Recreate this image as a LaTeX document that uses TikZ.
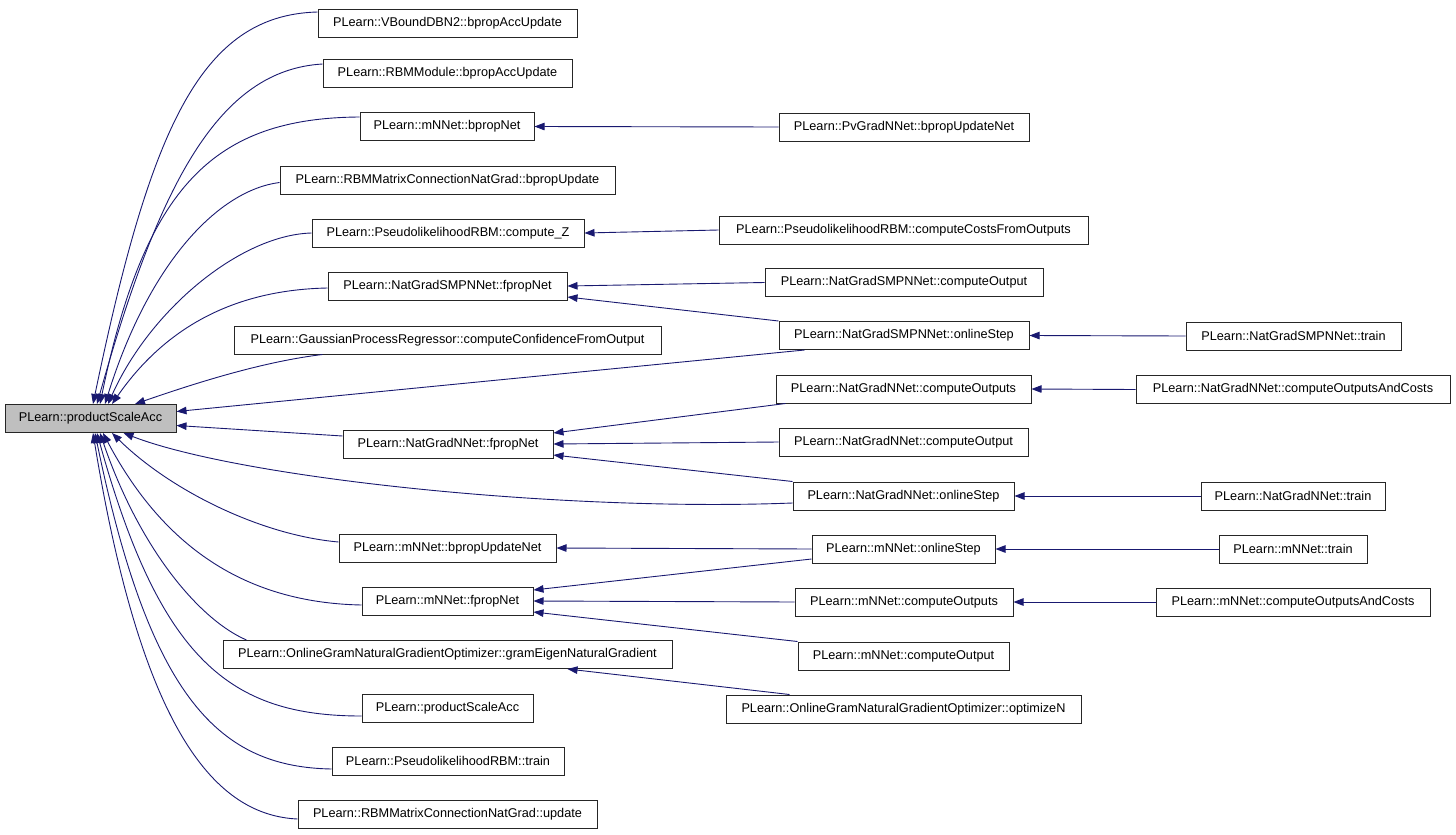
\documentclass[tikz,border=0pt]{standalone}
\usepackage{fontspec}
\setmainfont{Liberation Sans}
\usetikzlibrary{arrows.meta}
\definecolor{navyc}{HTML}{191970}
\begin{document}
\begin{tikzpicture}[x=1pt,y=-1pt,
  box/.style={draw=black!85, line width=1pt, fill=white, minimum height=28pt, inner sep=0pt,
    font=\fontsize{12.7}{15}\selectfont},
  arr/.style={draw=navyc, line width=0.9pt, -{Triangle[length=10pt,width=7.5pt]}}]
\useasboundingbox (0,0) rectangle (1456,835);
% root
\node[box, fill=gray!50, minimum width=171] (root) at (90.5,418.5) {PLearn::productScaleAcc};
% column 2
\node[box, minimum width=259] (a1) at (447.5,23.5) {PLearn::VBoundDBN2::bpropAccUpdate};
\node[box, minimum width=249] (a2) at (447.5,73.5) {PLearn::RBMModule::bpropAccUpdate};
\node[box, minimum width=174] (a3) at (447,126.5) {PLearn::mNNet::bpropNet};
\node[box, minimum width=335] (a4) at (447.5,180.5) {PLearn::RBMMatrixConnectionNatGrad::bpropUpdate};
\node[box, minimum width=272] (a5) at (448,233) {PLearn::PseudolikelihoodRBM::compute\_Z};
\node[box, minimum width=239] (a6) at (447.5,286) {PLearn::NatGradSMPNNet::fpropNet};
\node[box, minimum width=427] (a7) at (447.5,340) {PLearn::GaussianProcessRegressor::computeConfidenceFromOutput};
\node[box, minimum width=210] (a8) at (448,444) {PLearn::NatGradNNet::fpropNet};
\node[box, minimum width=217] (a9) at (447.5,548) {PLearn::mNNet::bpropUpdateNet};
\node[box, minimum width=171] (a10) at (447.5,601) {PLearn::mNNet::fpropNet};
\node[box, minimum width=449] (a11) at (447.5,654.5) {PLearn::OnlineGramNaturalGradientOptimizer::gramEigenNaturalGradient};
\node[box, minimum width=171] (a12) at (447.5,708) {PLearn::productScaleAcc};
\node[box, minimum width=232] (a13) at (448,761) {PLearn::PseudolikelihoodRBM::train};
\node[box, minimum width=299] (a14) at (447.5,814.5) {PLearn::RBMMatrixConnectionNatGrad::update};
% column 3
\node[box, minimum width=250] (b1) at (904,127) {PLearn::PvGradNNet::bpropUpdateNet};
\node[box, minimum width=369] (b2) at (903.5,230) {PLearn::PseudolikelihoodRBM::computeCostsFromOutputs};
\node[box, minimum width=278] (b3) at (904,282.5) {PLearn::NatGradSMPNNet::computeOutput};
\node[box, minimum width=250] (b4) at (904,335.5) {PLearn::NatGradSMPNNet::onlineStep};
\node[box, minimum width=255] (b5) at (903.5,389) {PLearn::NatGradNNet::computeOutputs};
\node[box, minimum width=249] (b6) at (903.5,442) {PLearn::NatGradNNet::computeOutput};
\node[box, minimum width=221] (b7) at (903.5,496) {PLearn::NatGradNNet::onlineStep};
\node[box, minimum width=183] (b8) at (903.5,549) {PLearn::mNNet::onlineStep};
\node[box, minimum width=218] (b9) at (904,602) {PLearn::mNNet::computeOutputs};
\node[box, minimum width=211] (b10) at (903.5,656) {PLearn::mNNet::computeOutput};
\node[box, minimum width=355] (b11) at (903.5,709) {PLearn::OnlineGramNaturalGradientOptimizer::optimizeN};
% column 4
\node[box, minimum width=215] (c1) at (1293.5,336) {PLearn::NatGradSMPNNet::train};
\node[box, minimum width=314] (c2) at (1293,389.5) {PLearn::NatGradNNet::computeOutputsAndCosts};
\node[box, minimum width=184] (c3) at (1293,496) {PLearn::NatGradNNet::train};
\node[box, minimum width=148] (c4) at (1293,549) {PLearn::mNNet::train};
\node[box, minimum width=274] (c5) at (1293,602) {PLearn::mNNet::computeOutputsAndCosts};
% edges into root (top)
\draw[arr] ([yshift=-3]a1.north west) .. controls (200,15) and (150,130) .. ([xshift=2.5]root.north);
\draw[arr] ([yshift=-5]a2.north west) .. controls (220,70) and (160,180) .. ([xshift=6.5]root.north);
\draw[arr] ([yshift=-5]a3.north west) .. controls (215,118) and (145,185) .. ([xshift=9.5]root.north);
\draw[arr] ([yshift=-2]a4.west) .. controls (220,190) and (150,260) .. ([xshift=14.5]root.north);
\draw[arr] (a5.west) .. controls (240,235) and (150,310) .. ([xshift=17.5]root.north);
\draw[arr] ([yshift=-2]a6.west) .. controls (225,290) and (160,335) .. ([xshift=21.5]root.north);
\draw[arr] ([xshift=89]a7.south west) .. controls (260,362) and (190,385) .. ([xshift=44.5]root.north);
\draw[arr] ([xshift=26]b4.south west) -- ([yshift=7]root.east);
\draw[arr] ([yshift=8]a8.west) -- ([yshift=-7]root.east);
% edges into root (bottom)
\draw[arr] ([yshift=-7]b7.west) .. controls (560,512) and (240,478) .. ([xshift=33]root.south);
\draw[arr] ([yshift=6]a9.west) .. controls (260,535) and (170,490) .. ([xshift=21.5]root.south);
\draw[arr] ([yshift=-4]a10.west) .. controls (260,603) and (170,560) .. ([xshift=12.5]root.south);
\draw[arr] ([xshift=24]a11.north west) .. controls (200,620) and (140,550) .. ([xshift=9.5]root.south);
\draw[arr] ([yshift=-8]a12.west) .. controls (230,716) and (160,660) .. ([xshift=6.5]root.south);
\draw[arr] ([yshift=-8]a13.west) .. controls (220,767) and (150,700) .. ([xshift=4.5]root.south);
\draw[arr] ([yshift=-4.5]a14.west) .. controls (210,815) and (140,720) .. ([xshift=2.5]root.south);
% column 3 -> column 2
\draw[arr] (b1.west) -- (a3.east);
\draw[arr] (b2.west) -- (a5.east);
\draw[arr] (b3.west) -- (a6.east);
\draw[arr] (b4.north west) -- ([yshift=-11]a6.east);
\draw[arr] ([xshift=10]b5.south west) -- ([yshift=11]a8.east);
\draw[arr] (b6.west) -- (a8.east);
\draw[arr] (b7.north west) -- ([yshift=-11]a8.east);
\draw[arr] (b8.west) -- (a9.east);
\draw[arr] ([yshift=-10]b8.west) -- ([yshift=11]a10.east);
\draw[arr] (b9.west) -- (a10.east);
\draw[arr] (b10.north west) -- ([yshift=-11]a10.east);
\draw[arr] ([xshift=64]b11.north west) -- ([xshift=-105]a11.south east);
% column 4 -> column 3
\draw[arr] (c1.west) -- (b4.east);
\draw[arr] (c2.west) -- (b5.east);
\draw[arr] (c3.west) -- (b7.east);
\draw[arr] (c4.west) -- (b8.east);
\draw[arr] (c5.west) -- (b9.east);
\end{tikzpicture}
\end{document}
